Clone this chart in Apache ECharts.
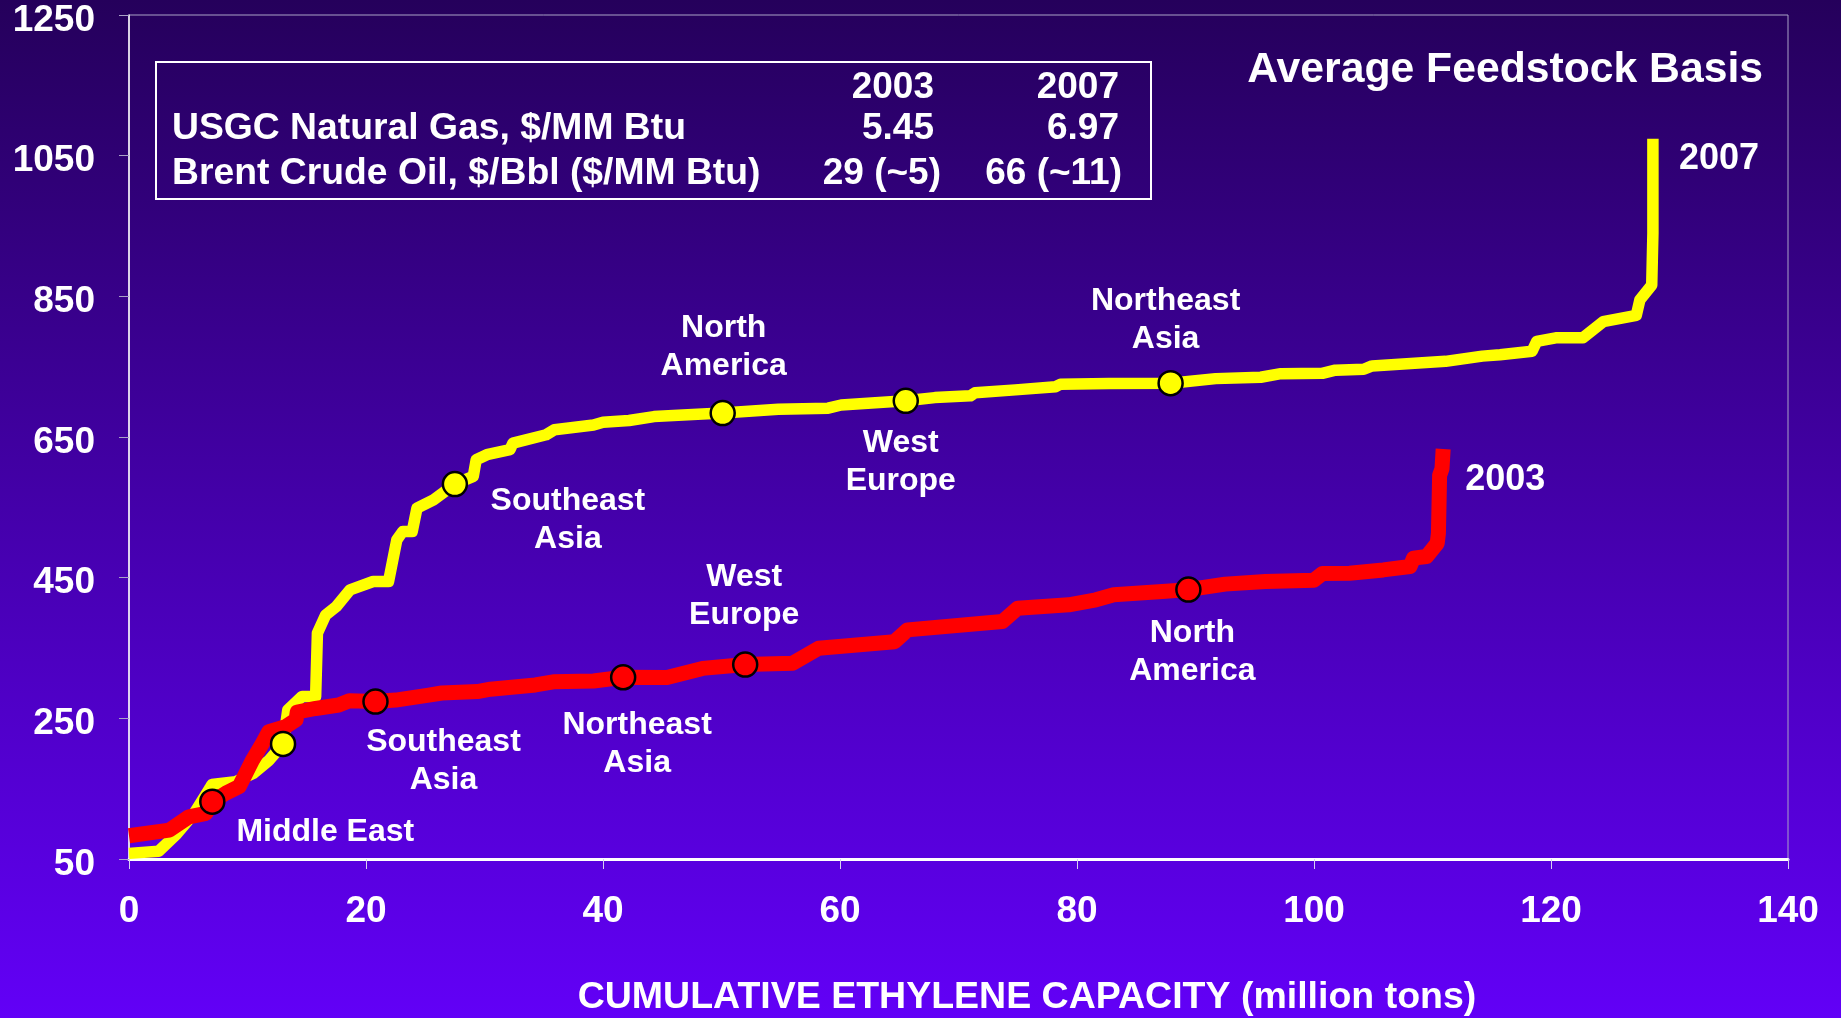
<!DOCTYPE html>
<html>
<head>
<meta charset="utf-8">
<script src="https://cdn.jsdelivr.net/npm/echarts@6/dist/echarts.min.js"></script>
<style>
html,body{margin:0;padding:0;background:#3a0090;}
#chart{width:1841px;height:1018px;}
</style>
</head>
<body>
<div id="chart"></div>
<script>
// ---- tick values ----
const xTicks = [0, 20, 40, 60, 80, 100, 120, 140];
const yTicks = [50, 250, 450, 650, 850, 1050, 1250];

// ---- 2007 cost curve (cumulative capacity, cost) ----
const cap2007 = [0, 2.5, 4.0, 5.5, 6.8, 7.0, 9.0, 10.5, 11.8, 13.0, 13.4, 14.6, 15.75, 15.9, 16.6, 17.5, 18.65, 20.6, 21.9, 22.6, 23.1, 23.9, 24.3, 25.7, 27.5, 29.05, 29.3, 30.2, 32.15, 32.4, 35.2, 35.9, 39.2, 40.0, 42.2, 44.3, 48.8, 50.1, 54.8, 59.0, 60.1, 65.55, 68.0, 71.0, 71.4, 74.8, 78.2, 78.6, 82.7, 87.9, 91.7, 95.5, 97.2, 100.7, 101.8, 104.2, 104.9, 111.1, 114.2, 115.7, 118.4, 118.8, 120.4, 122.7, 124.4, 127.2, 127.5, 128.5, 128.6, 128.6];
const cost2007 = [58, 61, 85, 115, 150, 156, 160, 172, 190, 213.6, 262, 281, 281, 371, 397, 409, 432.7, 444.5, 444.5, 503.8, 515.6, 515.6, 548.7, 560.7, 583, 594, 617.6, 624.8, 632, 641.4, 653.2, 660.3, 667, 671, 673.5, 679, 683, 684, 689.5, 691, 695.5, 701.5, 706, 708.5, 713, 717, 721.5, 725, 726, 726.5, 733, 735, 740, 740.5, 745, 746.3, 751, 757.6, 765, 767, 772, 786, 791, 791, 814, 823, 845, 866, 940, 1074];

// ---- 2003 cost curve ----
const cap2003 = [0, 3.4, 5.06, 6.5, 7.03, 8.16, 9.3, 10.4, 11.25, 11.8, 13.2, 14.1, 14.2, 15.75, 17.7, 18.6, 20.8, 22.5, 25.3, 26.4, 29.4, 30.5, 34.3, 35.8, 39.2, 41.7, 45.4, 48.4, 52.0, 56.0, 58.2, 64.6, 65.7, 73.7, 75.0, 79.3, 81.6, 83.1, 87.2, 89.4, 92.5, 95.9, 100.0, 100.7, 103.0, 105.85, 108.1, 108.4, 109.5, 110.4, 110.5, 110.6, 110.8, 110.9];
const cost2003 = [83, 91, 110, 115, 131.5, 143.5, 153, 190, 214, 231, 238, 248, 259, 264, 269, 275, 274, 276, 283, 286, 288, 291.4, 297.5, 302, 303, 308.4, 308, 321, 326.5, 328.4, 349.7, 359, 375.8, 387.6, 406.6, 411.4, 418.5, 425.6, 430.3, 433, 440.8, 444.5, 446.4, 455.8, 456.2, 461, 465.8, 477.8, 480, 499, 513, 595.4, 604.8, 633];

// ---- regional markers ----
const markerCap2007 = [13.0, 27.5, 50.1, 65.55, 87.9];
const markerCost2007 = [213.6, 583, 684, 701.5, 726.5];
const markerRegion2007 = ['Middle East', 'Southeast\nAsia', 'North\nAmerica', 'West\nEurope', 'Northeast\nAsia'];

const markerCap2003 = [7.03, 20.8, 41.7, 52.0, 89.4];
const markerCost2003 = [131.5, 273.8, 308.4, 326.5, 433];
const markerRegion2003 = ['Middle East', 'Southeast\nAsia', 'Northeast\nAsia', 'West\nEurope', 'North\nAmerica'];

// ---- feedstock table ----
const tableYears = ['2003', '2007'];
const tableRowNames = ['USGC Natural Gas, $/MM Btu', 'Brent Crude Oil, $/Bbl ($/MM Btu)'];
const table2003 = ['5.45', '29 (~5)'];
const table2007 = ['6.97', '66 (~11)'];

const seriesNames = ['2007', '2003'];
const chartTitle = 'Average Feedstock Basis';
const xAxisTitle = 'CUMULATIVE ETHYLENE CAPACITY (million tons)';

// ---- layout (positions/styles, not data) ----
const FONT = '"Liberation Sans", Arial, Helvetica, sans-serif';
const labelOffsets2007 = [null, [113, 36], [1, -66], [-5, 61], [-5, -63]];
const labelOffsets2003 = [[113, 30], [68, 60], [14, 67], [-1, -68], [4, 63]];

function zip(a, b) { return a.map((v, i) => [v, b[i]]); }

function markerData(caps, costs, names, offsets) {
  return caps.map((c, i) => {
    const off = offsets[i];
    return {
      value: [c, costs[i]],
      name: names[i],
      label: off ? {
        show: true, position: 'inside', offset: off,
        formatter: '{b}', color: '#FFFFFF', fontSize: 32, fontWeight: 'bold',
        fontFamily: FONT, lineHeight: 38, align: 'center', verticalAlign: 'middle'
      } : { show: false }
    };
  });
}

const chart = echarts.init(document.getElementById('chart'), null, { renderer: 'canvas' });

const txt = (text, x, y, size, align, vAlign) => ({
  type: 'text', x: x, y: y, silent: true, z: 100,
  style: {
    text: text, fill: '#FFFFFF',
    font: 'bold ' + size + 'px ' + FONT,
    textAlign: align, textVerticalAlign: vAlign,
    align: align, verticalAlign: vAlign
  }
});

const graphics = [
  { type: 'rect', shape: { x: 156, y: 62, width: 995, height: 137 }, silent: true, z: 90,
    style: { fill: 'none', stroke: '#FFFFFF', lineWidth: 2 } },
  txt(tableYears[0], 934, 88, 37, 'right', 'middle'),
  txt(tableYears[1], 1119, 88, 37, 'right', 'middle'),
  txt(tableRowNames[0], 172, 129, 37.3, 'left', 'middle'),
  txt(table2003[0], 934, 129, 37, 'right', 'middle'),
  txt(table2007[0], 1119, 129, 37, 'right', 'middle'),
  txt(tableRowNames[1], 172, 174, 37.3, 'left', 'middle'),
  txt(table2003[1], 941, 174, 37, 'right', 'middle'),
  txt(table2007[1], 1122, 174, 37, 'right', 'middle'),
  txt(chartTitle, 1763, 70, 42.7, 'right', 'middle'),
  txt(xAxisTitle, 1027, 998, 37.5, 'center', 'middle')
];

const option = {
  animation: false,
  backgroundColor: {
    type: 'linear', x: 0, y: 0, x2: 0, y2: 1,
    colorStops: [{ offset: 0, color: '#25005B' }, { offset: 0.5, color: '#4400AA' }, { offset: 1, color: '#6200F7' }]
  },
  textStyle: { fontFamily: FONT },
  grid: {
    left: 129, right: 53, top: 15, bottom: 159,
    show: true, borderColor: '#A9A2C6', borderWidth: 1, backgroundColor: 'transparent'
  },
  xAxis: {
    type: 'value',
    min: xTicks[0], max: xTicks[xTicks.length - 1], interval: xTicks[1] - xTicks[0],
    axisLine: { show: true, onZero: false, lineStyle: { color: '#FFFFFF', width: 3 } },
    axisTick: { show: true, length: 10, lineStyle: { color: '#D8D0F0', width: 1 } },
    axisLabel: { color: '#FFFFFF', fontSize: 37, fontWeight: 'bold', fontFamily: FONT, margin: 34,
      formatter: v => String(v) },
    splitLine: { show: false }
  },
  yAxis: {
    type: 'value',
    min: yTicks[0], max: yTicks[yTicks.length - 1], interval: yTicks[1] - yTicks[0],
    axisLine: { show: true, lineStyle: { color: '#FFFFFF', width: 1.5 } },
    axisTick: { show: true, length: 10, lineStyle: { color: '#A9A2C6', width: 1 } },
    axisLabel: { color: '#FFFFFF', fontSize: 37, fontWeight: 'bold', fontFamily: FONT, margin: 34,
      verticalAlign: 'top', lineHeight: 11, formatter: v => String(v) },
    splitLine: { show: false }
  },
  graphic: graphics,
  series: [
    {
      name: seriesNames[0], type: 'line', data: zip(cap2007, cost2007),
      showSymbol: false, symbol: 'none', smooth: false,
      lineStyle: { color: '#FFFF00', width: 11.5, cap: 'butt', join: 'round' },
      endLabel: { show: true, formatter: seriesNames[0], color: '#FFFFFF', fontSize: 36, fontWeight: 'bold',
        fontFamily: FONT, distance: 5, offset: [21, 20] },
      z: 2
    },
    {
      name: seriesNames[1], type: 'line', data: zip(cap2003, cost2003),
      showSymbol: false, symbol: 'none', smooth: false,
      lineStyle: { color: '#FF0000', width: 15, cap: 'butt', join: 'round' },
      endLabel: { show: true, formatter: seriesNames[1], color: '#FFFFFF', fontSize: 36, fontWeight: 'bold',
        fontFamily: FONT, distance: 5, offset: [17, 31] },
      z: 3
    },
    {
      name: 'markers2007', type: 'scatter', symbol: 'circle', symbolSize: 24,
      data: markerData(markerCap2007, markerCost2007, markerRegion2007, labelOffsets2007),
      itemStyle: { color: '#FFFF00', borderColor: '#000000', borderWidth: 2.5, opacity: 1 },
      z: 5
    },
    {
      name: 'markers2003', type: 'scatter', symbol: 'circle', symbolSize: 24,
      data: markerData(markerCap2003, markerCost2003, markerRegion2003, labelOffsets2003),
      itemStyle: { color: '#FF0000', borderColor: '#000000', borderWidth: 2.5, opacity: 1 },
      z: 5
    }
  ]
};

chart.setOption(option);
</script>
</body>
</html>
